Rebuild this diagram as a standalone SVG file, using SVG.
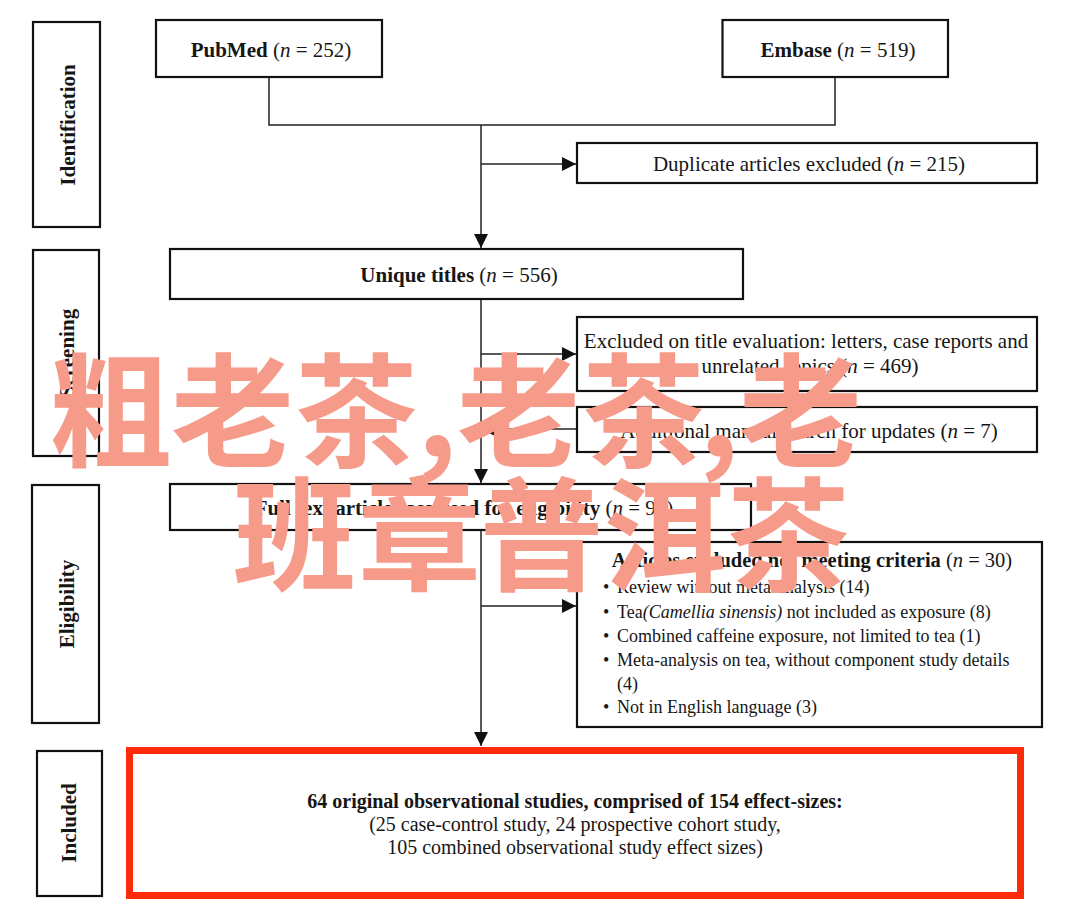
<svg xmlns="http://www.w3.org/2000/svg" width="1080" height="915" viewBox="0 0 1080 915">
<style>
.bx{fill:#fff;stroke:#111;stroke-width:2.2}
.red{fill:#fff;stroke:#ff2a0c;stroke-width:7}
.cn{fill:none;stroke:#222;stroke-width:1.5}
text{font-family:"Liberation Serif","Times New Roman",serif;fill:#161616}
.t{font-size:21px}
.s{font-size:18px}
.st{font-size:21px;font-weight:bold}
.b{font-weight:bold}
.i{font-style:italic}
.wm{font-family:"Noto Sans CJK SC","Noto Sans",sans-serif;font-size:123px;font-weight:bold;fill:#f69a8a}
</style>
<defs>
<marker id="ah" viewBox="0 0 14 14" refX="14" refY="7" markerWidth="14" markerHeight="14" markerUnits="userSpaceOnUse" orient="auto">
<path d="M0,0 L14,7 L0,14 z" fill="#111"/>
</marker>
</defs>

<g id="connectors">
<path class="cn" d="M269,78 V125 H835 V78"/>
<path class="cn" d="M481,125 V248" marker-end="url(#ah)"/>
<path class="cn" d="M481,164 H576" marker-end="url(#ah)"/>
<path class="cn" d="M481,300 V483" marker-end="url(#ah)"/>
<path class="cn" d="M481,354 H576" marker-end="url(#ah)"/>
<path class="cn" d="M576,429 H481" marker-end="url(#ah)"/>
<path class="cn" d="M481,531 V746" marker-end="url(#ah)"/>
<path class="cn" d="M481,606 H576" marker-end="url(#ah)"/>
</g>

<g id="stage-identification">
<rect class="bx" x="33" y="22" width="67" height="205"/>
<text class="st" transform="translate(75,125) rotate(-90)" text-anchor="middle">Identification</text>
</g>
<g id="stage-screening">
<rect class="bx" x="33" y="250" width="66" height="206"/>
<text class="st" transform="translate(74,353) rotate(-90)" text-anchor="middle">Screening</text>
</g>
<g id="stage-eligibility">
<rect class="bx" x="32" y="485" width="67" height="238"/>
<text class="st" transform="translate(74,604) rotate(-90)" text-anchor="middle">Eligibility</text>
</g>
<g id="stage-included">
<rect class="bx" x="37" y="751" width="65" height="145"/>
<text class="st" transform="translate(76,823) rotate(-90)" text-anchor="middle">Included</text>
</g>

<g id="pubmed">
<rect class="bx" x="156" y="20" width="226" height="57"/>
<text class="t" x="271" y="57" text-anchor="middle"><tspan class="b">PubMed</tspan> (<tspan class="i">n</tspan> = 252)</text>
</g>
<g id="embase">
<rect class="bx" x="722.5" y="20" width="225.5" height="57"/>
<text class="t" x="838" y="57" text-anchor="middle"><tspan class="b">Embase</tspan> (<tspan class="i">n</tspan> = 519)</text>
</g>
<g id="duplicates">
<rect class="bx" x="577" y="143" width="460" height="40"/>
<text class="t" x="809" y="171" text-anchor="middle">Duplicate articles excluded (<tspan class="i">n</tspan> = 215)</text>
</g>
<g id="unique">
<rect class="bx" x="170" y="249" width="573" height="50"/>
<text class="t" x="459" y="282" text-anchor="middle"><tspan class="b">Unique titles</tspan> (<tspan class="i">n</tspan> = 556)</text>
</g>
<g id="excluded-title">
<rect class="bx" x="577" y="317" width="460" height="74"/>
<text class="t" x="806" y="348" text-anchor="middle">Excluded on title evaluation: letters, case reports and</text>
<text class="t" x="810" y="373" text-anchor="middle">unrelated topics (<tspan class="i">n</tspan> = 469)</text>
</g>
<g id="additional">
<rect class="bx" x="577" y="407" width="460" height="45"/>
<text class="t" x="809" y="438" text-anchor="middle">Additional manual search for updates (<tspan class="i">n</tspan> = 7)</text>
</g>
<g id="fulltext">
<rect class="bx" x="170" y="484" width="581" height="46"/>
<text class="t" x="464" y="515" text-anchor="middle"><tspan class="b">Full text articles assessed for eligibility</tspan> (<tspan class="i">n</tspan> = 94)</text>
</g>
<g id="articles-excluded">
<rect class="bx" x="577" y="542" width="465" height="185"/>
<text x="812" y="567" text-anchor="middle" style="font-size:20.5px"><tspan class="b">Articles excluded not meeting criteria</tspan> (<tspan class="i">n</tspan> = 30)</text>
<text class="s" x="603" y="593">•</text><text class="s" x="617" y="593">Review without meta-analysis (14)</text>
<text class="s" x="603" y="618">•</text><text class="s" x="617" y="618">Tea<tspan class="i">(Camellia sinensis)</tspan> not included as exposure (8)</text>
<text class="s" x="603" y="642">•</text><text class="s" x="617" y="642">Combined caffeine exposure, not limited to tea (1)</text>
<text class="s" x="603" y="666">•</text><text class="s" x="617" y="666">Meta-analysis on tea, without component study details</text>
<text class="s" x="617" y="690">(4)</text>
<text class="s" x="603" y="713">•</text><text class="s" x="617" y="713">Not in English language (3)</text>
</g>
<g id="included">
<rect class="red" x="129.5" y="750.5" width="891" height="145"/>
<text x="575" y="808" text-anchor="middle" style="font-size:20px;font-weight:bold">64 original observational studies, comprised of 154 effect-sizes:</text>
<text x="575" y="831" text-anchor="middle" style="font-size:20px">(25 case-control study, 24 prospective cohort study,</text>
<text x="575" y="854" text-anchor="middle" style="font-size:20px">105 combined observational study effect sizes)</text>
</g>

<g id="watermark">
<text class="wm" x="49 171 295 417 457 582 699 739" y="457">粗老茶,老茶,老</text>
<text class="wm" x="233 358 480 603 727" y="581">班章普洱茶</text>
</g>
</svg>
